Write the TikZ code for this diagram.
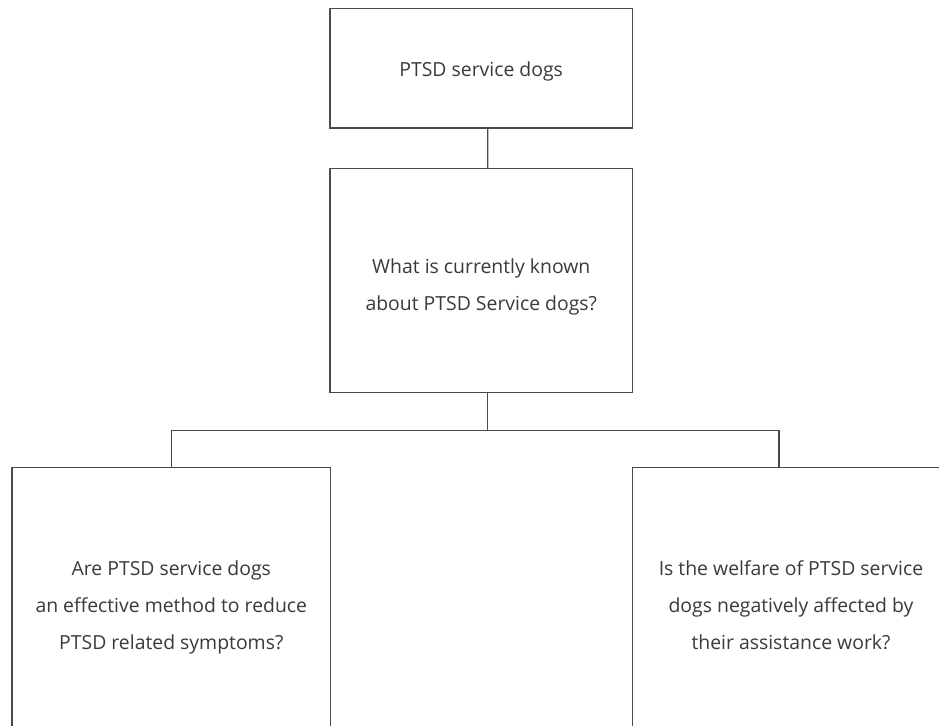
\documentclass[tikz,border=0pt]{standalone}
\usepackage{fontspec}
\setmainfont{Open Sans}
\definecolor{linec}{HTML}{4A4A4A}
\definecolor{textc}{HTML}{3A3A3A}
\begin{document}
\begin{tikzpicture}[x=1pt,y=-1pt,
  box/.style={draw=linec,line width=1.3pt,fill=white,inner sep=0pt},
  txt/.style={inner sep=0pt,align=center,text=textc,font=\fontsize{19.4}{37}\selectfont},
  conn/.style={draw=linec,line width=1.3pt}]
\useasboundingbox (0,0) rectangle (939,725);
\clip (0,0) rectangle (939,725);
\node[box,minimum width=302.3pt,minimum height=119.7pt] (top) at (481.2,68.2) {};
\node[box,minimum width=302.7pt,minimum height=224pt] (mid) at (481.3,280.7) {};
\node[box,minimum width=318.7pt,minimum height=272.6pt] (left) at (171.3,604) {};
\node[box,minimum width=316.6pt,minimum height=272.6pt] (right) at (791,604) {};
\node[txt] (topt) at (481.2,71) {PTSD service dogs};
\node[txt] (midt) at (481.3,287) {What is currently known\\about PTSD Service dogs?};
\node[txt] (leftt) at (171.3,607) {Are PTSD service dogs\\an effective method to reduce\\PTSD related symptoms?};
\node[txt] (rightt) at (791,605) {Is the welfare of PTSD service\\dogs negatively affected by\\their assistance work?};
\draw[conn] ([xshift=6.5pt]top.south) -- ([xshift=6.5pt]mid.north);
\draw[conn] ([xshift=6.5pt]mid.south) -- ++(0,37.3) coordinate (j);
\draw[conn] (left.north) |- (j) -| ([xshift=-12pt]right.north);
\end{tikzpicture}
\end{document}
